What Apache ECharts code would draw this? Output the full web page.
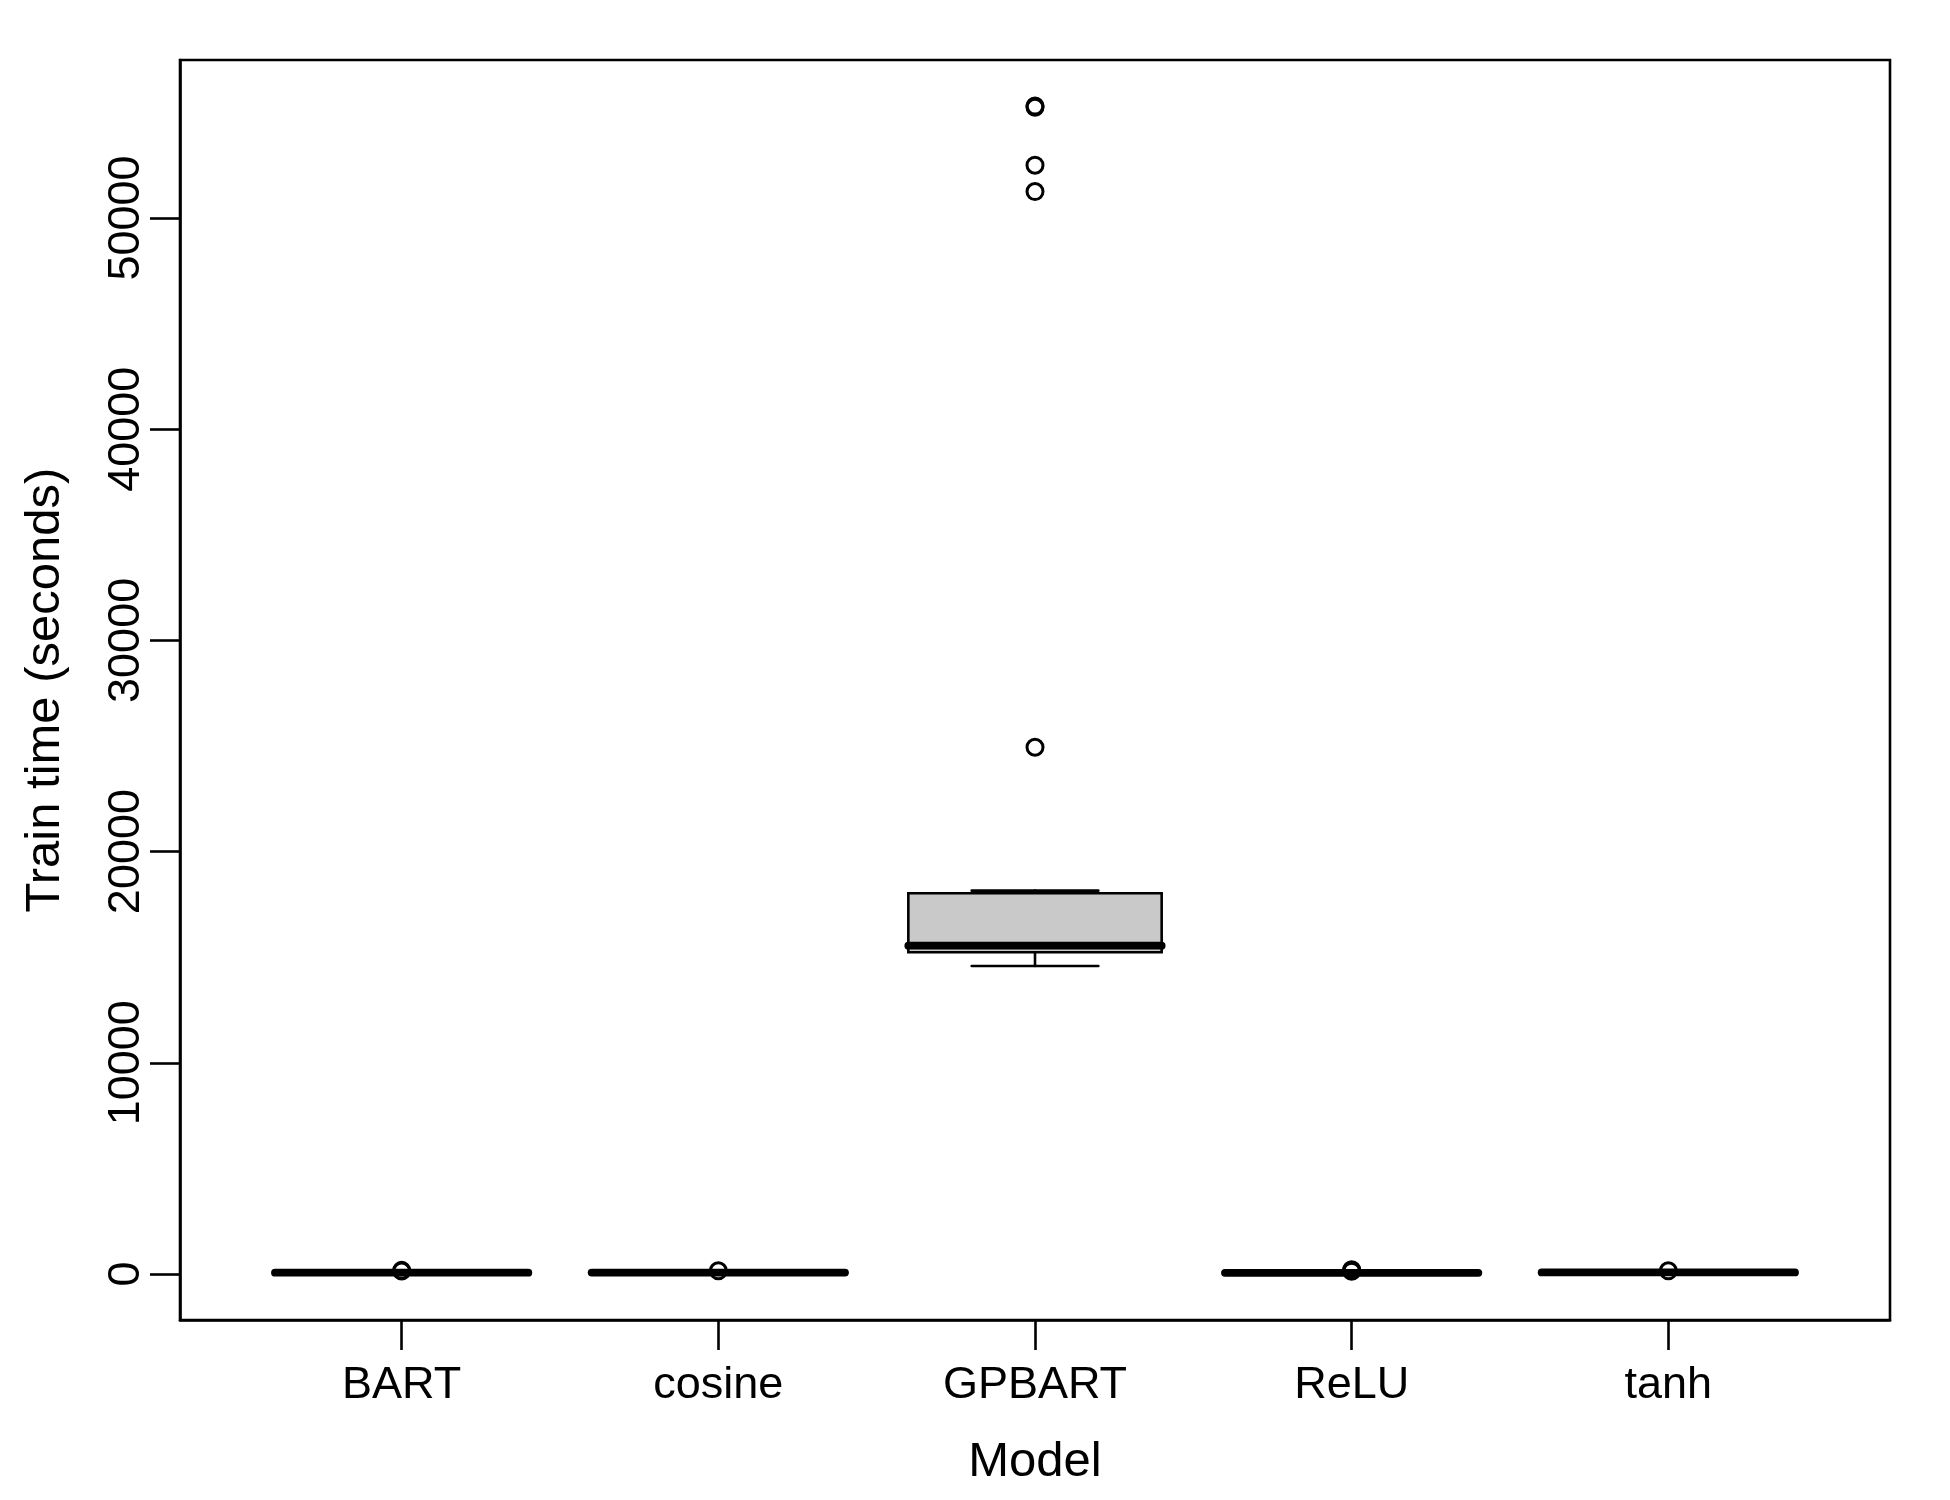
<!DOCTYPE html>
<html>
<head>
<meta charset="utf-8">
<title>Train time by model</title>
<script src="https://cdn.jsdelivr.net/npm/echarts@6/dist/echarts.min.js"></script>
<style>
  html, body { margin: 0; padding: 0; background: #fff; }
  #chart { width: 1950px; height: 1500px; }
</style>
</head>
<body>
<div id="chart"></div>
<script>
// models on the x axis (positions 1..5)
var models = ['BART', 'cosine', 'GPBART', 'ReLU', 'tanh'];

// boxplot stats per model, train time in seconds
var lowWhisker  = [20, 25, 14580, 15, 35];
var lowerQ      = [35, 40, 15230, 30, 50];
var medians     = [60, 65, 15545, 55, 75];
var upperQ      = [85, 90, 18025, 80, 100];
var highWhisker = [110, 115, 18150, 105, 125];

// outliers: [model position, seconds]
var outliers = [
    [1, 140], [1, 170],
    [2, 150],
    [3, 24940], [3, 51250], [3, 52500], [3, 55240], [3, 55300],
    [4, 130], [4, 160], [4, 200],
    [5, 150]
];

var yTicks = [0, 10000, 20000, 30000, 40000, 50000];
var xTicks = [1, 2, 3, 4, 5];

var boxData = models.map(function (m, i) {
    return [i + 1, lowWhisker[i], lowerQ[i], medians[i], upperQ[i], highWhisker[i]];
});

var FONT = 'Liberation Sans, Arial, Helvetica, sans-serif';
var LW = 2.6;

function renderBox(params, api) {
    var x = api.value(0);
    var low = api.coord([x, api.value(1)]);
    var q1 = api.coord([x, api.value(2)]);
    var med = api.coord([x, api.value(3)]);
    var q3 = api.coord([x, api.value(4)]);
    var high = api.coord([x, api.value(5)]);
    var boxW = api.size([0.8, 0])[0];
    var capW = boxW / 2;
    var cx = low[0];
    var thin = { stroke: '#000', lineWidth: LW, lineCap: 'round' };
    return {
        type: 'group',
        children: [
            { type: 'line', shape: { x1: cx, y1: q1[1], x2: cx, y2: low[1] }, style: thin },
            { type: 'line', shape: { x1: cx, y1: q3[1], x2: cx, y2: high[1] }, style: thin },
            { type: 'line', shape: { x1: cx - capW / 2, y1: low[1], x2: cx + capW / 2, y2: low[1] }, style: thin },
            { type: 'line', shape: { x1: cx - capW / 2, y1: high[1], x2: cx + capW / 2, y2: high[1] }, style: thin },
            {
                type: 'rect',
                shape: { x: cx - boxW / 2, y: q3[1], width: boxW, height: q1[1] - q3[1] },
                style: { fill: '#c9c9c9', stroke: '#000', lineWidth: LW }
            },
            {
                type: 'line',
                shape: { x1: cx - boxW / 2, y1: med[1], x2: cx + boxW / 2, y2: med[1] },
                style: { stroke: '#000', lineWidth: 7.8, lineCap: 'round' }
            }
        ]
    };
}

var chart = echarts.init(document.getElementById('chart'));
chart.setOption({
    backgroundColor: '#fff',
    animation: false,
    grid: {
        left: 180, right: 60, top: 60, bottom: 180,
        show: true, borderColor: '#000', borderWidth: LW, backgroundColor: 'transparent'
    },
    xAxis: {
        type: 'value',
        min: 0.3,
        max: 5.7,
        name: 'Model',
        nameLocation: 'middle',
        nameGap: 118,
        nameTextStyle: { fontFamily: FONT, fontSize: 49, color: '#000' },
        axisLine: { show: true, onZero: false, lineStyle: { color: '#000', width: LW } },
        axisTick: { show: true, inside: false, length: 30, customValues: xTicks, lineStyle: { color: '#000', width: LW } },
        axisLabel: {
            customValues: xTicks,
            margin: 43,
            fontFamily: FONT, fontSize: 45, color: '#000',
            formatter: function (v) { return models[Math.round(v) - 1]; }
        },
        splitLine: { show: false }
    },
    yAxis: {
        type: 'value',
        min: -2180,
        max: 57480,
        name: 'Train time (seconds)',
        nameLocation: 'middle',
        nameGap: 110,
        nameTextStyle: { fontFamily: FONT, fontSize: 49, color: '#000' },
        axisLine: { show: true, onZero: false, lineStyle: { color: '#000', width: LW } },
        axisTick: { show: true, inside: false, length: 30, customValues: yTicks, lineStyle: { color: '#000', width: LW } },
        axisLabel: {
            customValues: yTicks,
            rotate: 90,
            margin: 31,
            fontFamily: FONT, fontSize: 45, color: '#000',
            formatter: function (v) { return String(v); }
        },
        splitLine: { show: false }
    },
    series: [
        {
            type: 'custom',
            renderItem: renderBox,
            data: boxData,
            encode: { x: 0, y: [1, 2, 3, 4, 5] },
            z: 2
        },
        {
            type: 'scatter',
            data: outliers,
            symbol: 'circle',
            symbolSize: 16,
            itemStyle: { color: 'rgba(0,0,0,0)', borderColor: '#000', borderWidth: 3, opacity: 1 },
            z: 3
        }
    ]
});
</script>
</body>
</html>
